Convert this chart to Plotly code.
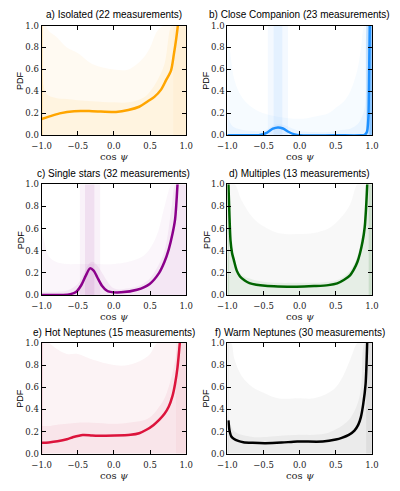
import plotly.graph_objects as go

# ---------------- data ----------------
titles = ["a) Isolated (22 measurements)", "b) Close Companion (23 measurements)",
          "c) Single stars (32 measurements)", "d) Multiples (13 measurements)",
          "e) Hot Neptunes (15 measurements)", "f) Warm Neptunes (30 measurements)"]
colors = ["#FFA500", "#1E90FF", "#8B008B", "#006400", "#DC143C", "#000000"]
bg_colors = ["255,165,0", "30,144,255", "139,0,139", "120,120,120", "200,20,60", "80,80,80"]
inner_colors = ["255,165,0", "30,144,255", "139,0,139", "0,110,0", "200,20,60", "60,60,60"]

# main PDF curves
x_a = [-1.0, -0.9, -0.75, -0.55, -0.3, 0.03, 0.2, 0.35, 0.47, 0.56, 0.65, 0.72, 0.79, 0.83, 0.86, 0.885]
y_a = [0.148, 0.17, 0.2, 0.22, 0.22, 0.213, 0.23, 0.26, 0.31, 0.35, 0.414, 0.5, 0.59, 0.74, 0.87, 1.0]
x_b = [-1.0, -0.7, -0.55, -0.45, -0.37, -0.3, -0.23, -0.15, -0.07, 0.0, 0.5, 0.85, 0.9, 0.93, 0.95, 0.96, 0.97]
y_b = [0.0, 0.0, 0.003, 0.025, 0.06, 0.072, 0.062, 0.03, 0.008, 0.0, 0.0, 0.0, 0.005, 0.03, 0.15, 0.5, 1.0]
x_c = [-1.0, -0.7, -0.6, -0.52, -0.45, -0.385, -0.33, -0.28, -0.23, -0.165, -0.1, -0.05, 0.1, 0.32, 0.495, 0.626, 0.7, 0.758, 0.81, 0.846, 0.88]
y_c = [0.0, 0.0, 0.008, 0.03, 0.09, 0.18, 0.24, 0.22, 0.16, 0.083, 0.04, 0.028, 0.024, 0.047, 0.1, 0.2, 0.3, 0.41, 0.55, 0.68, 1.0]
x_d = [-0.985, -0.97, -0.956, -0.935, -0.91, -0.87, -0.825, -0.76, -0.694, -0.6, -0.476, -0.3, -0.04, 0.2, 0.397, 0.52, 0.616, 0.7, 0.747, 0.8, 0.834, 0.87, 0.9, 0.92, 0.935]
y_d = [1.0, 0.7, 0.49, 0.38, 0.315, 0.22, 0.167, 0.13, 0.107, 0.093, 0.083, 0.077, 0.074, 0.08, 0.089, 0.105, 0.137, 0.18, 0.226, 0.3, 0.375, 0.48, 0.61, 0.8, 1.0]
x_e = [-1.0, -0.9, -0.78, -0.65, -0.56, -0.43, -0.3, -0.15, 0.011, 0.23, 0.35, 0.45, 0.55, 0.626, 0.7, 0.758, 0.81, 0.846, 0.88, 0.912]
y_e = [0.098, 0.102, 0.112, 0.13, 0.15, 0.169, 0.165, 0.162, 0.163, 0.17, 0.185, 0.216, 0.26, 0.305, 0.36, 0.423, 0.52, 0.63, 0.78, 1.0]
x_f = [-0.985, -0.975, -0.965, -0.945, -0.912, -0.85, -0.78, -0.65, -0.473, -0.25, -0.033, 0.319, 0.5, 0.582, 0.68, 0.758, 0.81, 0.846, 0.88, 0.912, 0.934]
y_f = [0.3, 0.23, 0.194, 0.155, 0.134, 0.115, 0.104, 0.098, 0.095, 0.1, 0.11, 0.11, 0.128, 0.143, 0.17, 0.209, 0.26, 0.328, 0.45, 0.627, 1.0]

# spread of the posterior samples (approximate envelopes read from the shading)
bg_x = [-1.0, -0.95, -0.9, -0.8, -0.65, -0.5, -0.3, 0.0, 0.2, 0.4, 0.5, 0.6, 0.7, 0.8, 0.85, 0.9, 0.95, 1.0]
outer = [
    [1.0, 1.0, 0.95, 0.9, 0.8, 0.75, 0.65, 0.6, 0.6, 0.7, 0.8, 0.95, 1.0, 1.0, 1.0, 1.0, 1.0, 1.0],
    [1.0, 0.7, 0.5, 0.35, 0.25, 0.2, 0.17, 0.15, 0.17, 0.2, 0.25, 0.3, 0.4, 0.6, 0.8, 1.0, 1.0, 1.0],
    [0.6, 0.45, 0.35, 0.3, 0.28, 0.28, 0.28, 0.28, 0.3, 0.35, 0.42, 0.55, 0.8, 1.0, 1.0, 1.0, 1.0, 1.0],
    [1.0, 1.0, 1.0, 0.85, 0.7, 0.62, 0.56, 0.55, 0.56, 0.6, 0.65, 0.72, 0.82, 1.0, 1.0, 1.0, 1.0, 1.0],
    [1.0, 1.0, 1.0, 0.95, 0.9, 0.9, 0.85, 0.8, 0.8, 0.85, 0.9, 1.0, 1.0, 1.0, 1.0, 1.0, 1.0, 1.0],
    [1.0, 1.0, 0.85, 0.7, 0.6, 0.55, 0.5, 0.5, 0.5, 0.55, 0.6, 0.7, 0.85, 1.0, 1.0, 1.0, 1.0, 1.0],
]
inner = [
    [0.6, 0.4, 0.36, 0.34, 0.33, 0.32, 0.31, 0.3, 0.3, 0.34, 0.4, 0.5, 0.65, 1.0, 1.0, 1.0, 1.0, 1.0],
    [0.2, 0.1, 0.07, 0.05, 0.04, 0.04, 0.1, 0.04, 0.03, 0.03, 0.04, 0.05, 0.06, 0.1, 0.15, 0.25, 1.0, 1.0],
    [0.03, 0.03, 0.03, 0.03, 0.04, 0.1, 0.3, 0.06, 0.06, 0.1, 0.15, 0.25, 0.4, 0.8, 1.0, 1.0, 1.0, 1.0],
    [1.0, 0.45, 0.28, 0.18, 0.14, 0.12, 0.11, 0.11, 0.11, 0.12, 0.13, 0.16, 0.22, 0.35, 0.5, 0.7, 1.0, 1.0],
    [0.25, 0.25, 0.25, 0.26, 0.27, 0.28, 0.28, 0.27, 0.28, 0.3, 0.33, 0.4, 0.5, 0.7, 0.85, 1.0, 1.0, 1.0],
    [0.35, 0.25, 0.2, 0.17, 0.15, 0.15, 0.16, 0.17, 0.17, 0.19, 0.22, 0.26, 0.32, 0.45, 0.6, 1.0, 1.0, 1.0],
]
outer_alpha = [0.05, 0.04, 0.035, 0.05, 0.05, 0.05]
inner_alpha = [0.07, 0.06, 0.06, 0.07, 0.06, 0.06]
# dense vertical bundles of samples: (x0, x1, alpha)
bands = [
    [(-1.0, -0.985, 0.3), (0.82, 1.0, 0.04)],
    [(-0.44, -0.16, 0.05), (-0.36, -0.24, 0.07), (0.92, 1.0, 0.2), (0.965, 1.0, 0.35)],
    [(-0.47, -0.19, 0.05), (-0.4, -0.27, 0.08)],
    [(-1.0, -0.975, 0.12), (0.955, 1.0, 0.12)],
    [(-1.0, -0.988, 0.25), (0.86, 1.0, 0.04)],
    [(-1.0, -0.98, 0.06), (0.92, 1.0, 0.07)],
]

curves_x = [x_a, x_b, x_c, x_d, x_e, x_f]
curves_y = [y_a, y_b, y_c, y_d, y_e, y_f]

x_ticks = [-1.0, -0.5, 0.0, 0.5, 1.0]
y_ticks = [0.0, 0.2, 0.4, 0.6, 0.8, 1.0]

SERIF = "DejaVu Serif"
SANS = "Liberation Sans"

# ---------------- layout geometry ----------------
W, H = 400, 491
col_px = [(33, 184), (227, 378)]
row_px = [(21, 133), (183, 296), (345, 458)]

fig = go.Figure()
layout = dict(width=W, height=H, margin=dict(l=0, r=0, t=0, b=0),
              paper_bgcolor="white", plot_bgcolor="white", showlegend=False,
              annotations=[])

for i in range(6):
    r, c = divmod(i, 2)
    n = i + 1
    xa = "x" if n == 1 else f"x{n}"
    ya = "y" if n == 1 else f"y{n}"
    x0p, x1p = col_px[c]
    y0p, y1p = row_px[r]
    xdom = [x0p / W, x1p / W]
    ydom = [1 - y1p / H, 1 - y0p / H]

    # background sample shading
    fig.add_trace(go.Scatter(x=bg_x, y=outer[i], mode="lines", line=dict(width=0, shape="spline"),
                             fill="tozeroy", fillcolor=f"rgba({bg_colors[i]},{outer_alpha[i]})",
                             xaxis=xa, yaxis=ya, hoverinfo="skip"))
    fig.add_trace(go.Scatter(x=bg_x, y=inner[i], mode="lines", line=dict(width=0, shape="spline"),
                             fill="tozeroy", fillcolor=f"rgba({inner_colors[i]},{inner_alpha[i]})",
                             xaxis=xa, yaxis=ya, hoverinfo="skip"))
    for (b0, b1, al) in bands[i]:
        fig.add_trace(go.Scatter(x=[b0, b1, b1, b0, b0], y=[0, 0, 1, 1, 0], mode="lines",
                                 line=dict(width=0), fill="toself",
                                 fillcolor=f"rgba({inner_colors[i]},{al})",
                                 xaxis=xa, yaxis=ya, hoverinfo="skip"))
    # main curve
    fig.add_trace(go.Scatter(x=curves_x[i], y=curves_y[i], mode="lines",
                             line=dict(color=colors[i], width=2.5, shape="spline", smoothing=0.8),
                             xaxis=xa, yaxis=ya))

    axcommon = dict(showline=True, linecolor="black", linewidth=1, mirror="ticks",
                    ticks="inside", ticklen=4, tickcolor="black", tickwidth=1,
                    showgrid=False, zeroline=False,
                    tickfont=dict(family=SERIF, size=8.5, color="#222"))
    layout["xaxis" if n == 1 else f"xaxis{n}"] = dict(
        domain=xdom, range=[-1, 1], tickvals=x_ticks, tickformat=".1f",
        anchor=ya, ticklabelstandoff=3, **axcommon)
    layout["yaxis" if n == 1 else f"yaxis{n}"] = dict(
        domain=ydom, range=[0, 1], tickvals=y_ticks, tickformat=".1f",
        anchor=xa, **axcommon)

    cx = (x0p + x1p) / 2
    layout["annotations"].append(dict(
        text=titles[i], x=cx / W, y=1 - (y0p - 11) / H, xref="paper", yref="paper",
        xanchor="center", yanchor="middle", showarrow=False,
        font=dict(family=SANS, size=10, color="black")))
    layout["annotations"].append(dict(
        text="cos <i>ψ</i>", x=cx / W, y=1 - (y1p + 22) / H, xref="paper", yref="paper",
        xanchor="center", yanchor="middle", showarrow=False,
        font=dict(family=SERIF, size=10, color="#222")))
    layout["annotations"].append(dict(
        text="PDF", x=(x0p - 22) / W, y=1 - (y0p + y1p) / 2 / H, xref="paper", yref="paper",
        xanchor="center", yanchor="middle", showarrow=False, textangle=-90,
        font=dict(family=SANS, size=9, color="black")))

fig.update_layout(**layout)
fig.write_html("out.html")
